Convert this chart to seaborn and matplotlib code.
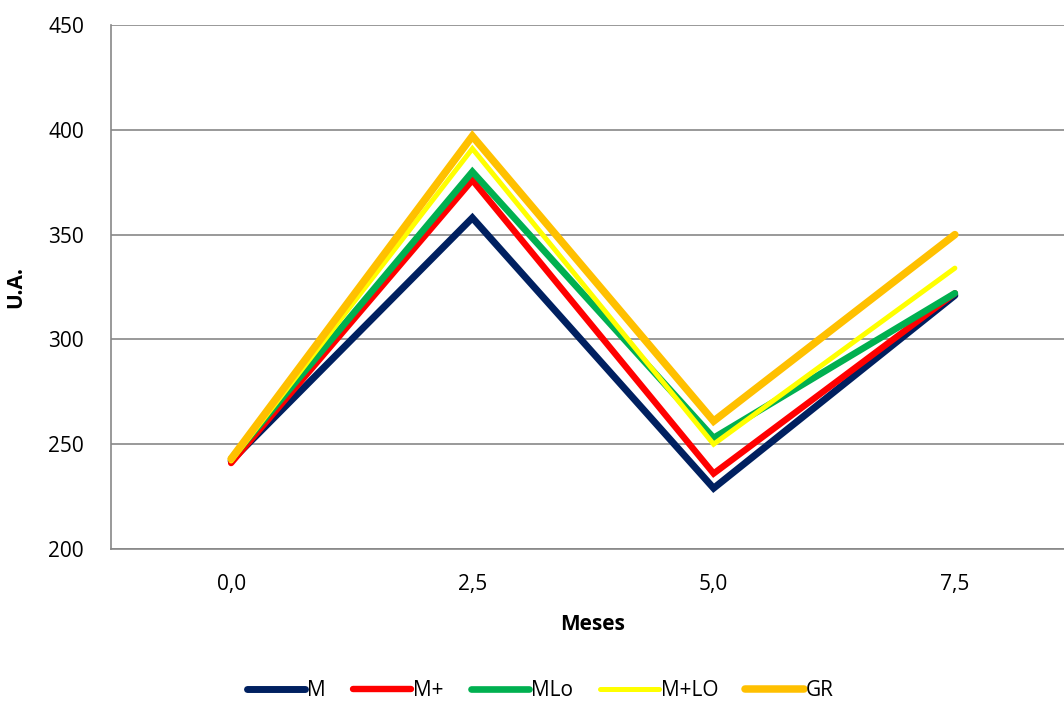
import matplotlib
matplotlib.use("Agg")
import matplotlib.pyplot as plt
import seaborn as sns
import pandas as pd

categories = ["0,0", "2,5", "5,0", "7,5"]
series_names = ["M", "M+", "MLo", "M+LO", "GR"]
M = [242, 358, 229, 321]
M_plus = [241, 376, 236, 322]
MLo = [243, 380, 253, 322]
M_plus_LO = [242, 391, 250, 334]
GR = [243, 397, 261, 350]
colors = ["#002060", "#FF0000", "#00B050", "#FFFF00", "#FFC000"]
widths = [5.0, 4.6, 4.8, 3.6, 5.4]

values = [M, M_plus, MLo, M_plus_LO, GR]
rows = []
for name, vals in zip(series_names, values):
    for i, v in enumerate(vals):
        rows.append({"pos": i, "serie": name, "val": v})
df = pd.DataFrame(rows)

sns.set_style("white")
plt.rcParams["font.family"] = ["Open Sans", "DejaVu Sans"]
plt.rcParams["text.color"] = "black"
plt.rcParams["axes.labelcolor"] = "black"
plt.rcParams["xtick.labelcolor"] = "black"
plt.rcParams["ytick.labelcolor"] = "black"

fig = plt.figure(figsize=(10.64, 7.04), dpi=100)
ax = fig.add_axes([110.5 / 1064, 155 / 704, 965 / 1064, 524 / 704])

for name, col, lw in zip(series_names, colors, widths):
    sub = df[df["serie"] == name]
    sns.lineplot(data=sub, x="pos", y="val", color=col, linewidth=lw, ax=ax,
                 label=name, solid_capstyle="round", solid_joinstyle="miter",
                 legend=False)

grid_c = "#878787"
fs = 15
ax.set_xlim(-0.5, 3.5)
ax.set_ylim(200, 450)
ax.set_yticks([200, 250, 300, 350, 400, 450])
ax.yaxis.grid(True, color=grid_c, linewidth=1.2)
ax.set_axisbelow(True)
ax.set_xticks(range(len(categories)))
ax.set_xticklabels(categories)
ax.set_xticks([-0.5, 0.5, 1.5, 2.5, 3.5], minor=True)
ax.tick_params(axis="x", which="major", length=0, pad=18, labelsize=fs)
ax.tick_params(axis="x", which="minor", length=7, color=grid_c, width=1.2, direction="out")
ax.tick_params(axis="y", length=7, color=grid_c, width=1.2, direction="out", labelsize=fs, pad=12)
for s in ["top", "right"]:
    ax.spines[s].set_visible(False)
for s in ["left", "bottom"]:
    ax.spines[s].set_color(grid_c)
    ax.spines[s].set_linewidth(1.2)

ax.set_xlabel("Meses", fontsize=fs, fontweight="bold", labelpad=14)
ax.set_ylabel("U.A.", fontsize=fs, fontweight="bold", labelpad=16)

handles, labels = ax.get_legend_handles_labels()
fig.legend(handles, labels, loc="center", bbox_to_anchor=(540 / 1064, 13 / 704),
           ncol=5, frameon=False, fontsize=fs, handlelength=2.8,
           handletextpad=0.1, columnspacing=1.3)

fig.savefig("out.png", dpi=100)
